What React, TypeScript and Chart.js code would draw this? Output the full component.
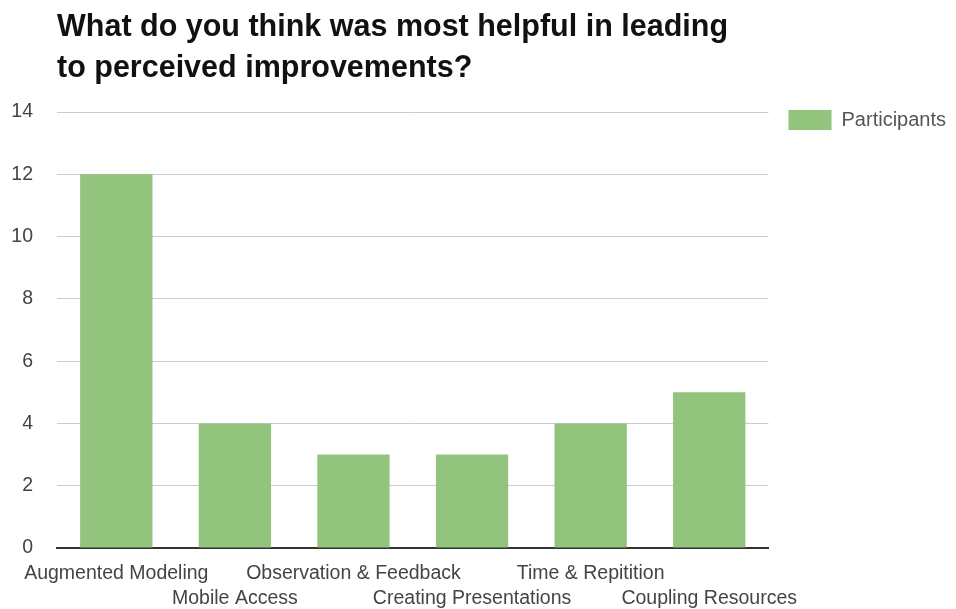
import React, { useEffect, useRef } from "react";
import { Chart, registerables } from "chart.js";

Chart.register(...registerables);

const titleLines = [
  "What do you think was most helpful in leading",
  "to perceived improvements?",
];
const categories: string[][] = [
  ["Augmented Modeling"],
  ["", "Mobile Access"],
  ["Observation & Feedback"],
  ["", "Creating Presentations"],
  ["Time & Repitition"],
  ["", "Coupling Resources"],
];
const seriesName = "Participants";
const participants = [12, 4, 3, 3, 4, 5];
const yMin = 0;
const yMax = 14;
const yStep = 2;

const FONT = "'Liberation Sans', Arial, Helvetica, sans-serif";

export default function App() {
  const ref = useRef<HTMLCanvasElement | null>(null);
  useEffect(() => {
    if (!ref.current) return;
    const chart = new Chart(ref.current, {
      type: "bar",
      data: {
        labels: categories,
        datasets: [
          {
            label: seriesName,
            data: participants,
            backgroundColor: "#93c47d",
            borderWidth: 0,
            barPercentage: 0.61,
            categoryPercentage: 1,
          },
        ],
      },
      options: {
        animation: false,
        responsive: false,
        maintainAspectRatio: false,
        layout: { padding: { left: 11, right: 0, top: 0, bottom: 1 } },
        plugins: {
          title: {
            display: true,
            text: titleLines,
            position: "top",
            fullSize: false,
            align: "start",
            color: "#111",
            font: { family: FONT, size: 30.5, weight: "bold", lineHeight: "41px" },
            padding: { top: 7, bottom: 23 },
          },
          legend: {
            display: true,
            position: "right",
            align: "start",
            fullSize: true,
            title: {
              display: true,
              text: "",
              padding: 0,
              font: { size: 12, lineHeight: "90px" },
            },
            labels: {
              boxWidth: 43,
              boxHeight: 20,
              padding: 20,
              color: "#555",
              font: { family: FONT, size: 20 },
            },
          },
          tooltip: { enabled: false },
        },
        scales: {
          x: {
            z: 1,
            grid: { display: false, drawTicks: false },
            border: { display: true, color: "#333", width: 2 },
            afterFit: (scale: any) => {
              scale.paddingLeft = 0;
              scale.paddingRight = 0;
              scale.height = 60;
            },
            ticks: {
              autoSkip: false,
              maxRotation: 0,
              minRotation: 0,
              padding: 13,
              color: "#444",
              font: { family: FONT, size: 19.5, lineHeight: 1.28 },
            },
          },
          y: {
            min: yMin,
            max: yMax,
            grid: { color: "#cccccc", drawTicks: false },
            border: { display: false },
            afterFit: (scale: any) => {
              scale.width = 46;
            },
            ticks: {
              stepSize: yStep,
              padding: 24,
              color: "#444",
              font: { family: FONT, size: 19.5 },
            },
          },
        },
      },
    });
    return () => chart.destroy();
  }, []);
  return (
    <div
      style={{
        position: "absolute",
        left: 0,
        top: 0,
        width: 956,
        height: 609,
        background: "#fff",
      }}
    >
      <canvas ref={ref} width={956} height={609} style={{ display: "block" }} />
    </div>
  );
}
